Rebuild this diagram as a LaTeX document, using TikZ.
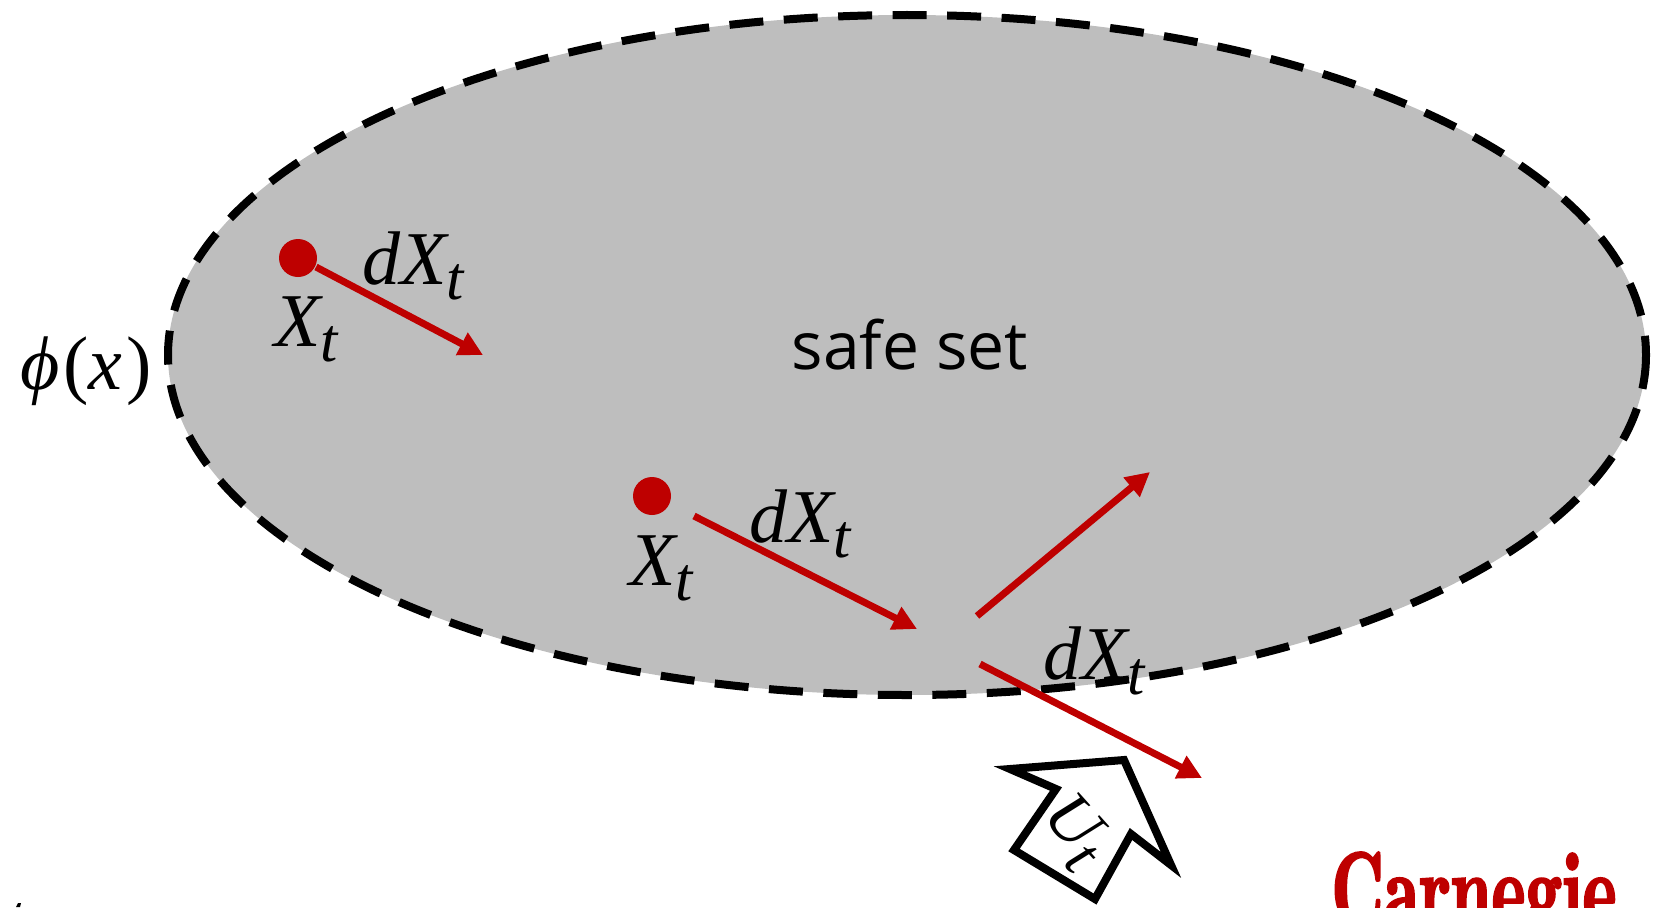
\documentclass[tikz,border=0pt]{standalone}
\usepackage{fontspec}
\usetikzlibrary{arrows.meta}
\setmainfont{Open Sans}
\newfontfamily\mathlike[Ligatures=TeX]{Liberation Serif}
\newfontfamily\logofont[FakeBold=2]{Latin Modern Roman Demi}
\definecolor{cmured}{HTML}{BE0000}
\definecolor{setgray}{HTML}{BEBEBE}
\tikzset{
  x=1pt,y=-1pt,
  safeset/.style={draw=black,line width=8pt,dash pattern=on 34pt off 20.5pt},
  sym/.style={inner sep=0pt,font=\mathlike\itshape\fontsize{76}{76}\selectfont},
  reddot/.style={circle,fill=cmured,minimum size=38pt,inner sep=0pt},
  redarrow/.style={draw=cmured,line width=7pt,-{Triangle[length=24pt,width=24pt,fill=cmured]}},
  blockarrow/.style={draw=black,line width=8pt,fill=white,miter limit=10},
}
\newcommand{\subt}{\raisebox{-15pt}{\fontsize{62}{62}\selectfont t}}
\begin{document}
\begin{tikzpicture}
\useasboundingbox (0,0) rectangle (1653,907);
\clip (0,0) rectangle (1653,907);
\fill[setgray] (907,355) ellipse [x radius=739,y radius=340];
\draw[safeset] (907,355) ellipse [x radius=739,y radius=340];
\node[inner sep=0pt,font=\fontsize{66}{66}\selectfont] (safe) at (910,345) {safe set};
\node[sym] (phi) at (86,371) {ϕ\kern4pt{\upshape(}x\kern4pt{\upshape)}};
\node[reddot] (d1) at (298,258) {};
\node[reddot] (d2) at (652,496) {};
\node[sym] (x1) at (306,329) {X\subt};
\node[sym] (x2) at (661,568) {X\subt};
\node[sym] (dx1) at (413,266) {dX\subt};
\node[sym] (dx2) at (800,524) {dX\subt};
\coordinate (a1s) at (316,267); \coordinate (a1e) at (483,355);
\coordinate (a2s) at (694,516); \coordinate (a2e) at (917,629);
\coordinate (a3s) at (977,616); \coordinate (a3e) at (1150,472);
\coordinate (a4s) at (980,664); \coordinate (a4e) at (1202,778);
\draw[redarrow] (a1s) -- (a1e);
\draw[redarrow] (a2s) -- (a2e);
\draw[redarrow] (a3s) -- (a3e);
\draw[redarrow] (a4s) -- (a4e);
\node[sym] (dx3) at (1094,661) {dX\subt};
\draw[blockarrow] (1010,769) -- (1124,760) -- (1171,865) -- (1131,834) -- (1095,899) -- (1014,850) -- (1056,789) -- cycle;
\node[sym,rotate=-48,font=\mathlike\itshape\fontsize{68}{68}\selectfont] (ut) at (1074,832) {U\subt};
\node[inner sep=0pt,anchor=base west,text=cmured,xscale=0.69,font=\logofont\fontsize{106}{106}\selectfont] (cmu) at (1331,926) {Carnegie};
\fill[black] (16,907) -- (18,903) -- (21,903) -- (20,907) -- cycle;
\end{tikzpicture}
\end{document}
